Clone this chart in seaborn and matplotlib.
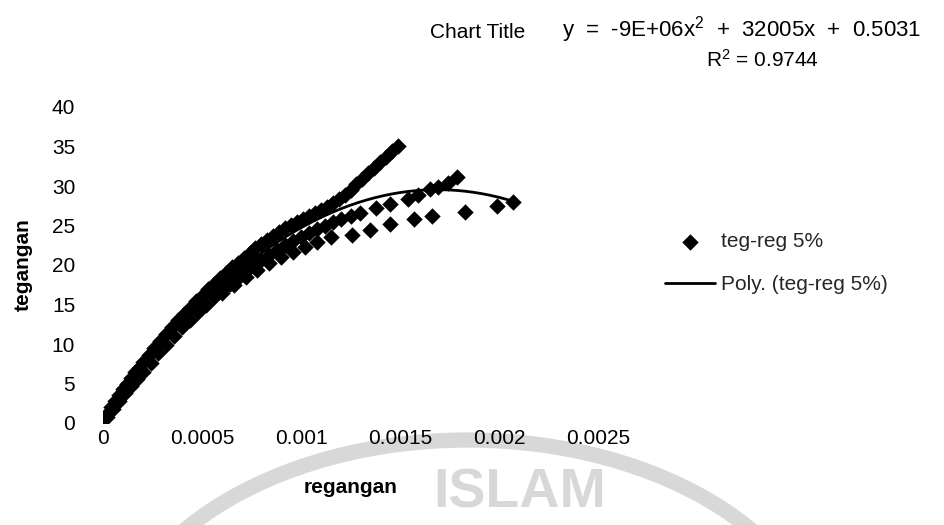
import numpy as np
import pandas as pd
import matplotlib
matplotlib.use("Agg")
import matplotlib.pyplot as plt
import seaborn as sns
from matplotlib.patches import Arc

# --- data (strain, stress) ---
strain_a = [0.00000, 0.00002, 0.00004, 0.00006, 0.00008, 0.00010, 0.00012, 0.00014, 0.00016, 0.00018,
            0.00020, 0.00023, 0.00026, 0.00029, 0.00032, 0.00035, 0.00038, 0.00041, 0.00044, 0.00047,
            0.00050, 0.00053, 0.00056, 0.00059, 0.00062, 0.00065, 0.00068, 0.00071, 0.00074, 0.00077,
            0.00080, 0.00083, 0.00086, 0.00089, 0.00092, 0.00095, 0.00098, 0.00101, 0.00104, 0.00107,
            0.00110, 0.00113, 0.00116, 0.00119, 0.00122, 0.00125, 0.00128, 0.00131, 0.00134, 0.00137,
            0.00140, 0.00143, 0.00146, 0.00149]
stress_a = [0.5, 1.2, 2.0, 2.8, 3.6, 4.3, 5.0, 5.7, 6.4, 7.0,
            7.7, 8.6, 9.5, 10.4, 11.3, 12.2, 13.0, 13.8, 14.6, 15.4,
            16.1, 16.9, 17.6, 18.3, 19.0, 19.7, 20.3, 20.9, 21.5, 22.1,
            22.6, 23.2, 23.7, 24.2, 24.7, 25.1, 25.5, 25.8, 26.2, 26.6,
            27.0, 27.4, 27.8, 28.3, 28.9, 29.5, 30.2, 30.9, 31.6, 32.3,
            33.0, 33.7, 34.4, 35.1]

strain_b = [0.00002, 0.00005, 0.00008, 0.00011, 0.00014, 0.00017, 0.00020, 0.00024, 0.00028, 0.00032,
            0.00036, 0.00040, 0.00044, 0.00048, 0.00052, 0.00056, 0.00060, 0.00064, 0.00068, 0.00072,
            0.00076, 0.00080, 0.00084, 0.00088, 0.00092, 0.00096, 0.00100, 0.00104, 0.00108, 0.00112,
            0.00116, 0.00120, 0.00125, 0.00130, 0.00138, 0.00145, 0.00154, 0.00159, 0.00165, 0.00169,
            0.00174, 0.00179]
stress_b = [0.8, 1.8, 2.8, 3.8, 4.7, 5.6, 6.5, 7.6, 8.8, 9.9,
            11.0, 12.1, 13.1, 14.1, 15.0, 15.9, 16.8, 17.6, 18.4, 19.2,
            19.9, 20.6, 21.3, 21.9, 22.5, 23.1, 23.6, 24.1, 24.6, 25.0,
            25.4, 25.8, 26.2, 26.6, 27.2, 27.7, 28.3, 28.9, 29.6, 29.9,
            30.4, 31.1]

strain_c = [0.00060, 0.00066, 0.00072, 0.00078, 0.00084, 0.00090, 0.00096, 0.00102, 0.00108, 0.00115,
            0.00126, 0.00135, 0.00145, 0.00157, 0.00166, 0.00183, 0.00199, 0.00207]
stress_c = [16.4, 17.5, 18.5, 19.4, 20.2, 21.0, 21.7, 22.3, 22.9, 23.6,
            23.8, 24.4, 25.2, 25.8, 26.2, 26.7, 27.5, 28.0]

x_ticks = [0, 0.0005, 0.001, 0.0015, 0.002, 0.0025]
x_tick_labels = ["0", "0.0005", "0.001", "0.0015", "0.002", "0.0025"]
y_ticks = [0, 5, 10, 15, 20, 25, 30, 35, 40]
y_tick_labels = ["0", "5", "10", "15", "20", "25", "30", "35", "40"]

series_label = "teg-reg 5%"
trend_label = "Poly. (teg-reg 5%)"
chart_title = "Chart Title"
equation_text = r"y  =  -9E+06x$^{2}$  +  32005x  +  0.5031"
r2_text = r"R$^{2}$ = 0.9744"

# --- style ---
sns.set_theme(style="white")
plt.rcParams["font.family"] = ["Liberation Sans", "DejaVu Sans"]
plt.rcParams["mathtext.fontset"] = "custom"
plt.rcParams["mathtext.rm"] = "Liberation Sans"
plt.rcParams["mathtext.it"] = "Liberation Sans"
plt.rcParams["mathtext.default"] = "regular"

W, H = 944, 525
fig = plt.figure(figsize=(W / 100, H / 100), dpi=100)
fig.patch.set_facecolor("white")

# faint scan watermark
wm = "#d8d8d8"
fig.add_artist(Arc((468, -150), 720, 470, theta1=0, theta2=180, transform=None,
                   color=wm, lw=11, zorder=0))
fig.text(520 / W, 1 - 494 / H, "ISLAM", color=wm, fontsize=40, fontweight="bold",
         ha="center", va="center", zorder=0)

ax = fig.add_axes([103 / W, 1 - 423 / H, 495 / W, 316 / H])
ax.set_facecolor("none")

strain = np.array(strain_a + strain_b + strain_c)
stress = np.array(stress_a + stress_b + stress_c)
df = pd.DataFrame({"regangan": strain, "tegangan": stress})

sns.scatterplot(data=df, x="regangan", y="tegangan", marker="D", s=70, color="black",
                edgecolor="black", linewidth=0, ax=ax, label=series_label, zorder=3)

coef = np.polyfit(strain, stress, 2)
xs = np.linspace(strain.min(), strain.max(), 200)
trend = pd.DataFrame({"x": xs, "y": np.polyval(coef, xs)})
sns.lineplot(data=trend, x="x", y="y", color="black", linewidth=2, ax=ax,
             label=trend_label, zorder=4)

ax.set_xlim(0, 0.0025)
ax.set_ylim(0, 40)
ax.set_xticks(x_ticks)
ax.set_xticklabels(x_tick_labels)
ax.set_yticks(y_ticks)
ax.set_yticklabels(y_tick_labels)
ax.tick_params(axis="both", length=0, labelsize=15, colors="black")
ax.tick_params(axis="x", pad=4)
ax.tick_params(axis="y", pad=20)
for s in ax.spines.values():
    s.set_visible(False)
ax.grid(False)

ax.set_xlabel("regangan", fontsize=15, fontweight="bold", labelpad=22, color="black")
ax.set_ylabel("tegangan", fontsize=15, fontweight="bold", labelpad=14, color="black")

ax.legend(loc="upper left", bbox_to_anchor=(665 / W, 1 - 232 / H), bbox_transform=fig.transFigure,
          frameon=False, fontsize=15, handlelength=2.4, handletextpad=0.3, labelspacing=1.15,
          borderaxespad=0, borderpad=0)

fig.text(478 / W, 1 - 33 / H, chart_title, fontsize=15, ha="center", va="center", color="black")
fig.text(562 / W, 1 - 30 / H, equation_text, fontsize=16, ha="left", va="center", color="black")
fig.text(762 / W, 1 - 60 / H, r2_text, fontsize=15, ha="center", va="center", color="black")

fig.savefig("out.png", dpi=100, facecolor="white")
